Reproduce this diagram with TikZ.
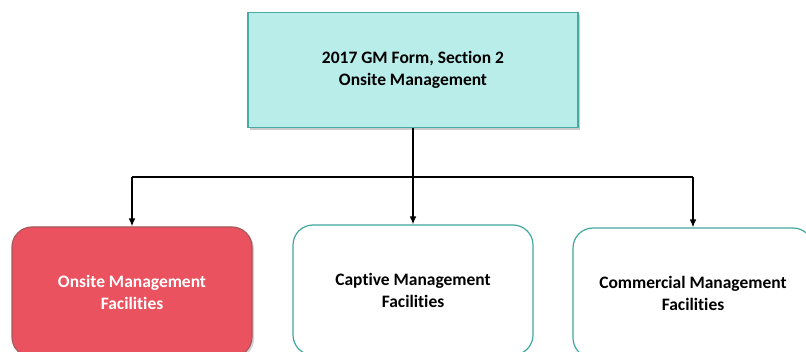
\documentclass[tikz,border=0pt]{standalone}
\usepackage{fontspec}
\setmainfont[Ligatures=NoCommon]{Carlito}
\usetikzlibrary{arrows.meta,shadows}
\definecolor{headfill}{HTML}{B9EDEA}
\definecolor{headline}{HTML}{4AA9A4}
\definecolor{onsitefill}{HTML}{E9525E}
\definecolor{onsiteline}{HTML}{A9575A}
\definecolor{unitline}{HTML}{3FA89E}
\tikzset{
	headbox/.style={draw=headline, fill=headfill, line width=0.9pt, minimum width=247.5pt, minimum height=86pt, align=center, font=\bfseries\fontsize{13.1}{16.5}\selectfont, drop shadow={shadow xshift=1.8pt, shadow yshift=-1.8pt, fill=black!40}},
	unitbox/.style={draw=unitline, fill=white, line width=0.9pt, rounded corners=15pt, minimum width=180pt, minimum height=97.5pt, align=center, font=\bfseries\fontsize{13.1}{16.5}\selectfont},
	link/.style={line width=1pt, draw=black},
}
\begin{document}
\begin{tikzpicture}[x=0.75pt, y=-0.75pt]
			%%%%% START %%%%%
			
			\fill[white] (0, 0) rectangle (806, 352);
			\useasboundingbox (0, 0) rectangle (806, 352);
			\clip (0, 0) rectangle (806, 352);
			
			\node[headbox] (head) at (413, 70) {2017 GM Form, Section 2\\Onsite Management};
			
			\node[unitbox, draw=onsiteline, fill=onsitefill, text=white, drop shadow={shadow xshift=1.5pt, shadow yshift=-1.5pt, fill=black!35}] (onsite) at (132, 292) {Onsite Management\\Facilities};
			\node[unitbox] (captive) at (413, 290) {Captive Management\\Facilities};
			\node[unitbox] (commercial) at (693, 293) {Commercial Management\\Facilities};
			
			\coordinate (bus) at (413, 177);
			
			\draw[link] (head.south) -- (bus);
			\draw[link] (bus -| onsite.north) -- (bus -| commercial.north);
			\draw[link, -{Latex[length=6pt, width=5pt]}] (bus -| onsite.north) -- (onsite.north);
			\draw[link, -{Latex[length=6pt, width=5pt]}] (bus) -- (captive.north);
			\draw[link, -{Latex[length=6pt, width=5pt]}] (bus -| commercial.north) -- (commercial.north);
			
			%%%%% END %%%%%
\end{tikzpicture}
\end{document}
